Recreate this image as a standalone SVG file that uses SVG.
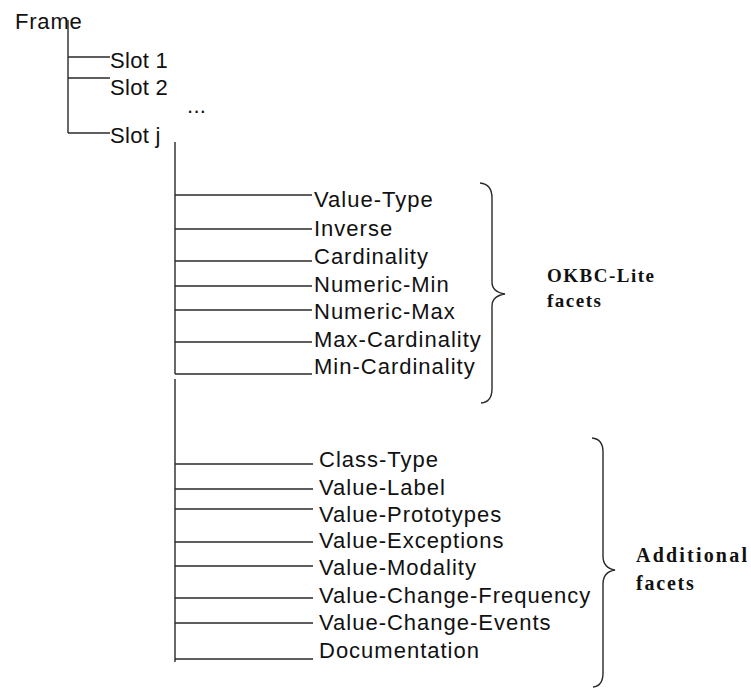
<svg xmlns="http://www.w3.org/2000/svg" width="751" height="694" viewBox="0 0 751 694">
<style>
.t{font-family:"Liberation Sans",Arial,sans-serif;font-size:22px;fill:#111;letter-spacing:1px}
.s{letter-spacing:0.3px}
.b{font-family:"Liberation Serif","Times New Roman",serif;font-size:19px;font-weight:bold;fill:#111;letter-spacing:1.5px}
.c{stroke:#2a2a2a;stroke-width:1.4;fill:none}
</style>
<rect width="751" height="694" fill="#fff"/>
<g id="connectors" class="c">
<path d="M68,20V133M68,57H110M68,78H110M68,133H110"/>
<path d="M175,142V374M175,379V662"/>
<path d="M175,195H312M175,229H312M175,261H312M175,286H312M175,310H312M175,342H312M175,374H312"/>
<path d="M175,464H313M175,489H313M175,509H313M175,542H313M175,566H313M175,598H313M175,623H313M175,659H313"/>
</g>
<g id="frame"><text class="t" x="15" y="29" style="letter-spacing:0.8px">Frame</text></g>
<g id="slot1"><text class="t s" x="110" y="68">Slot 1</text></g>
<g id="slot2"><text class="t s" x="110" y="95">Slot 2</text></g>
<g id="ellipsis"><text class="t s" x="187" y="113">...</text></g>
<g id="slotj"><text class="t s" x="110" y="143">Slot j</text></g>
<g id="value-type"><text class="t" x="314" y="207">Value-Type</text></g>
<g id="inverse"><text class="t" x="314" y="236">Inverse</text></g>
<g id="cardinality"><text class="t" x="314" y="264">Cardinality</text></g>
<g id="numeric-min"><text class="t" x="314" y="292">Numeric-Min</text></g>
<g id="numeric-max"><text class="t" x="314" y="319">Numeric-Max</text></g>
<g id="max-cardinality"><text class="t" x="314" y="347">Max-Cardinality</text></g>
<g id="min-cardinality"><text class="t" x="314" y="374">Min-Cardinality</text></g>
<g id="class-type"><text class="t" x="319" y="467">Class-Type</text></g>
<g id="value-label"><text class="t" x="319" y="495">Value-Label</text></g>
<g id="value-prototypes"><text class="t" x="319" y="522">Value-Prototypes</text></g>
<g id="value-exceptions"><text class="t" x="319" y="548">Value-Exceptions</text></g>
<g id="value-modality"><text class="t" x="319" y="575">Value-Modality</text></g>
<g id="value-change-frequency"><text class="t" x="319" y="603">Value-Change-Frequency</text></g>
<g id="value-change-events"><text class="t" x="319" y="630">Value-Change-Events</text></g>
<g id="documentation"><text class="t" x="319" y="658">Documentation</text></g>
<g id="okbc-brace">
<path class="c" d="M480,183Q492,184 492,198L492,282Q492,292 505,294Q492,296 492,306L492,389Q492,402 481,403"/>
<text class="b" x="547" y="282">OKBC-Lite</text>
<text class="b" x="547" y="307">facets</text>
</g>
<g id="additional-brace">
<path class="c" d="M592,438Q603,439 603,452L603,556Q603,568 615,570Q603,572 603,584L603,673Q603,686 593,687"/>
<text class="b" x="636" y="562" style="font-size:20px;letter-spacing:2.2px">Additional</text>
<text class="b" x="636" y="590" style="font-size:20px;letter-spacing:1.8px">facets</text>
</g>
</svg>
